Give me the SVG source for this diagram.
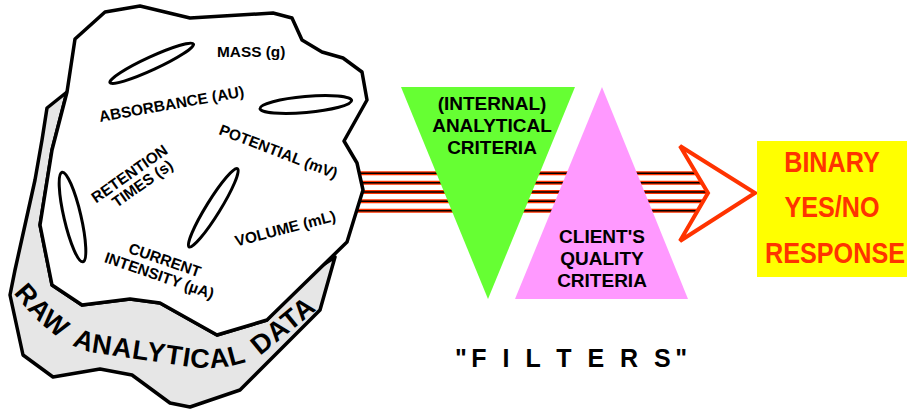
<svg xmlns="http://www.w3.org/2000/svg" width="907" height="412" viewBox="0 0 907 412">
  <defs>
    <style>
      .edge { stroke: #000; stroke-width: 3.5; stroke-linejoin: round; }
      .loop { fill: none; stroke: #000; stroke-width: 3; }
      .lbl { font-family: "Liberation Sans", Arial, sans-serif; font-weight: bold; font-size: 15.4px; fill: #000; }
      .crit { font-family: "Liberation Sans", Arial, sans-serif; font-weight: bold; font-size: 19px; fill: #000; text-anchor: middle; }
      .band { font-family: "Liberation Sans", Arial, sans-serif; font-weight: bold; font-size: 27px; fill: #000; letter-spacing: 0.8px; word-spacing: 6px; }
      .res { font-family: "Liberation Sans", Arial, sans-serif; font-weight: bold; font-size: 30px; fill: #ff3300; text-anchor: middle; }
      .flt { font-family: "Liberation Sans", Arial, sans-serif; font-weight: bold; font-size: 25px; fill: #000; letter-spacing: 4.5px; }
      .wire-red { stroke: #ff3300; stroke-width: 4; }
      .wire-core { stroke: #000; stroke-width: 1.6; }
    </style>
    <path id="bandPath" d="M 12,292 C 30,312 50,340 90,352 L 184,366 C 215,371 245,366 265,352 L 330,299"/>
  </defs>

  <!-- data stream carried from the raw data through the filters -->
  <g id="connectors">
    <g class="wire-red">
      <line x1="356" y1="173.3" x2="712" y2="173.3"/>
      <line x1="356" y1="182.7" x2="712" y2="182.7"/>
      <line x1="356" y1="192" x2="712" y2="192"/>
      <line x1="356" y1="201.3" x2="712" y2="201.3"/>
      <line x1="356" y1="210.7" x2="712" y2="210.7"/>
    </g>
    <g class="wire-core">
      <line x1="356" y1="173.3" x2="712" y2="173.3"/>
      <line x1="356" y1="182.7" x2="712" y2="182.7"/>
      <line x1="356" y1="192" x2="712" y2="192"/>
      <line x1="356" y1="201.3" x2="712" y2="201.3"/>
      <line x1="356" y1="210.7" x2="712" y2="210.7"/>
    </g>
    <polygon points="680,146 755,193 680,241 708,193" fill="#fff" stroke="#ff3300" stroke-width="4" stroke-linejoin="miter"/>
  </g>

  <!-- raw analytical data: grey band behind a white cloud of measurements -->
  <g id="raw-data">
    <polygon class="edge" fill="#e6e6e6" points="67,92 47,108 42,140 35,180 25,225 15,270 10,295 23,355 53,377 100,369 132,375 170,403 190,407 240,390 320,310 335,257 300,280 267,320 217,335 160,303 130,299 82,305 52,285 40,225 52,150"/>
    <polygon class="edge" fill="#fff" points="75,39 105,12 140,6 190,18 273,13 292,18 302,40 322,52 343,58 362,72 367,100 344,141 357,163 363,190 347,242 267,320 217,335 160,303 130,299 82,305 52,285 40,225 52,150 67,92"/>
    <ellipse class="loop" cx="151.7" cy="63.3" rx="46" ry="6.5" transform="rotate(-24.8 151.7 63.3)"/>
    <ellipse class="loop" cx="305.8" cy="104.5" rx="46" ry="8" transform="rotate(-5 305.8 104.5)"/>
    <ellipse class="loop" cx="72.5" cy="217" rx="46" ry="8.5" transform="rotate(76.9 72.5 217)"/>
    <ellipse class="loop" cx="213.3" cy="207.8" rx="46" ry="7" transform="rotate(-58.3 213.3 207.8)"/>
    <text class="lbl" x="217" y="57">MASS (g)</text>
    <text class="lbl" transform="translate(100,122) rotate(-10)">ABSORBANCE (AU)</text>
    <text class="lbl" transform="translate(218,134) rotate(21)">POTENTIAL (mV)</text>
    <text class="lbl" transform="translate(236.5,246.5) rotate(-14.5)">VOLUME (mL)</text>
    <g transform="translate(132.5,178) rotate(-35)">
      <text class="lbl" text-anchor="middle" x="0" y="0">RETENTION</text>
      <text class="lbl" text-anchor="middle" x="5" y="15.5">TIMES (s)</text>
    </g>
    <g transform="translate(163,265) rotate(19)">
      <text class="lbl" text-anchor="middle" x="0" y="0">CURRENT</text>
      <text class="lbl" text-anchor="middle" x="0" y="16.5">INTENSITY (µA)</text>
    </g>
    <text class="band"><textPath href="#bandPath" startOffset="2">RAW ANALYTICAL DATA</textPath></text>
  </g>

  <!-- first filter: internal analytical criteria -->
  <g id="internal-criteria">
    <polygon points="401,87 575,87 488,299" fill="#66ff33"/>
    <text class="crit" x="492" y="109.5">(INTERNAL)</text>
    <text class="crit" x="492" y="131.5">ANALYTICAL</text>
    <text class="crit" x="492" y="153.5">CRITERIA</text>
  </g>

  <!-- second filter: client's quality criteria -->
  <g id="client-criteria">
    <polygon points="602,87 688,299 515,299" fill="#ff99ff"/>
    <text class="crit" x="602" y="243">CLIENT'S</text>
    <text class="crit" x="602" y="265">QUALITY</text>
    <text class="crit" x="602" y="287">CRITERIA</text>
  </g>

  <!-- outcome -->
  <g id="binary-response">
    <rect x="757" y="141" width="150" height="136" fill="#ffff00"/>
    <text class="res" transform="translate(832,171.7) scale(0.84,1)">BINARY</text>
    <text class="res" transform="translate(832,216.7) scale(0.84,1)">YES/NO</text>
    <text class="res" transform="translate(835,263.3) scale(0.84,1)">RESPONSE</text>
  </g>

  <g id="filters-label">
    <text class="flt" x="455" y="366.7">"F I L T E R S"</text>
  </g>
</svg>
